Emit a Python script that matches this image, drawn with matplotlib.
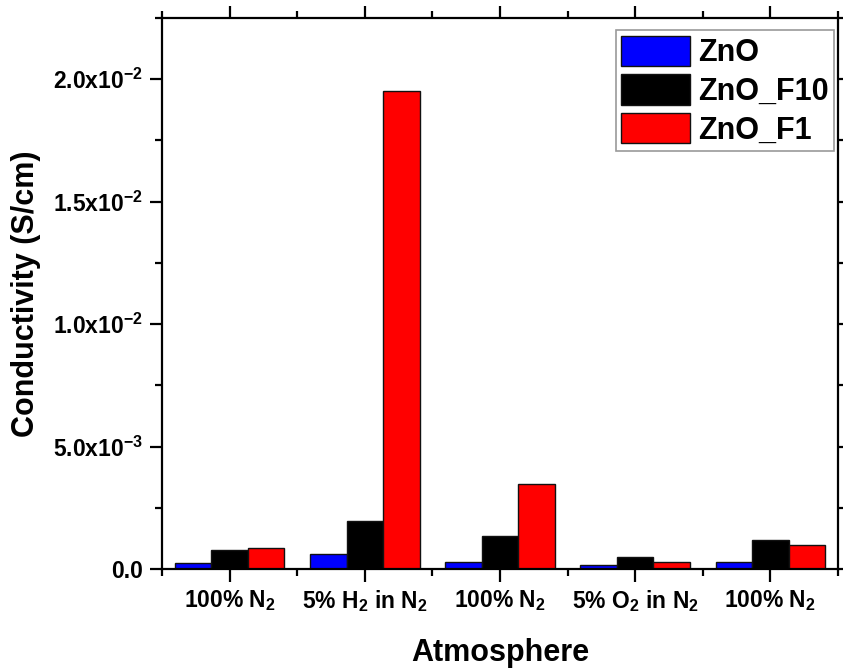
import numpy as np
import matplotlib
matplotlib.use("Agg")
import matplotlib.pyplot as plt
from matplotlib.ticker import FixedLocator, MultipleLocator

plt.rcParams['font.family'] = ['Liberation Sans', 'DejaVu Sans']
plt.rcParams['font.weight'] = 'bold'
plt.rcParams['mathtext.fontset'] = 'custom'
plt.rcParams['mathtext.rm'] = 'Liberation Sans:bold'
plt.rcParams['mathtext.bf'] = 'Liberation Sans:bold'
plt.rcParams['mathtext.default'] = 'bf'

# data
atmospheres = ['100% N$_2$', '5% H$_2$ in N$_2$', '100% N$_2$',
               '5% O$_2$ in N$_2$', '100% N$_2$']
series_names = ['ZnO', 'ZnO_F10', 'ZnO_F1']
zno = [2.5e-4, 6.1e-4, 2.7e-4, 1.8e-4, 2.8e-4]
zno_f10 = [7.8e-4, 1.94e-3, 1.35e-3, 4.7e-4, 1.19e-3]
zno_f1 = [8.5e-4, 1.95e-2, 3.49e-3, 2.8e-4, 9.9e-4]
colors = ['#0000ff', '#000000', '#ff0000']

y_ticks = [0.0, 5e-3, 1e-2, 1.5e-2, 2e-2]
y_tick_labels = ['0.0', '5.0x10$^{-3}$', '1.0x10$^{-2}$',
                 '1.5x10$^{-2}$', '2.0x10$^{-2}$']

fig = plt.figure(figsize=(8.43, 6.68), dpi=100)
ax = fig.add_axes([162 / 843, 1 - 569 / 668, 676 / 843, 551 / 668])

x = np.arange(len(atmospheres))
w = 0.27
for i, (vals, name, c) in enumerate(zip([zno, zno_f10, zno_f1], series_names, colors)):
    ax.bar(x + (i - 1) * w, vals, width=w, color=c, edgecolor='#111111',
           linewidth=1.0, label=name, zorder=2)

ax.set_xlim(-0.5, len(atmospheres) - 0.5)
ax.set_ylim(0, 0.0225)

ax.set_xticks(x)
ax.set_xticklabels(atmospheres, fontsize=16.5, fontweight='bold')
ax.xaxis.set_minor_locator(FixedLocator(np.arange(-0.5, len(atmospheres), 1.0)))
ax.set_yticks(y_ticks)
ax.set_yticklabels(y_tick_labels, fontsize=16.5, fontweight='bold')
ax.yaxis.set_minor_locator(MultipleLocator(2.5e-3))

for s in ax.spines.values():
    s.set_linewidth(1.6)
ax.tick_params(which='both', direction='out', top=True, right=True, width=1.6)
ax.tick_params(which='major', length=9, pad=5)
ax.tick_params(which='minor', length=5)

ax.set_xlabel('Atmosphere', fontsize=22, fontweight='bold', labelpad=17)
ax.set_ylabel('Conductivity (S/cm)', fontsize=22, fontweight='bold', labelpad=8)

leg = ax.legend(loc='upper right', bbox_to_anchor=(0.994, 0.978),
                frameon=True, fancybox=False, edgecolor='#808080',
                handlelength=2.25, handleheight=1.15, labelspacing=0.2,
                handletextpad=0.25, borderpad=0.18, borderaxespad=0,
                prop={'weight': 'bold', 'size': 22})
leg.get_frame().set_linewidth(1.2)

fig.savefig('out.png', dpi=100)
